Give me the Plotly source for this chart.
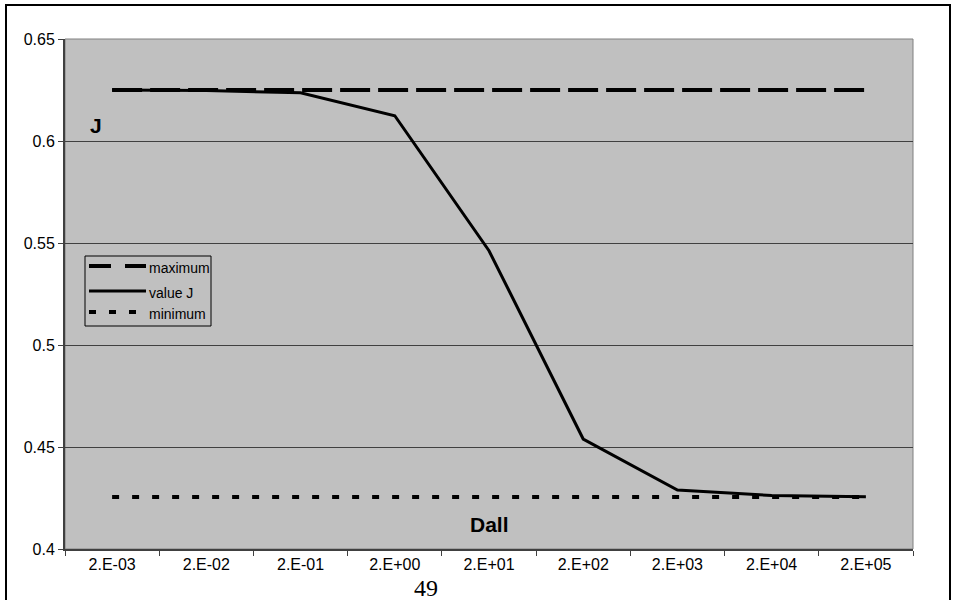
import plotly.graph_objects as go

categories = ["2.E-03", "2.E-02", "2.E-01", "2.E+00", "2.E+01", "2.E+02", "2.E+03", "2.E+04", "2.E+05"]
maximum = [0.625] * 9
value_j = [0.625, 0.6247, 0.6236, 0.6124, 0.5462, 0.4539, 0.4289, 0.4262, 0.4256]
minimum = [0.4255] * 9
y_ticks = [0.4, 0.45, 0.5, 0.55, 0.6, 0.65]
y_ticktext = ["0.4", "0.45", "0.5", "0.55", "0.6", "0.65"]
series_names = ["maximum", "value J", "minimum"]

W, H = 956, 600
L, R, T, B = 65, 913, 39, 549

def px(x):
    return (x - L) / (R - L)

def py(y):
    return (B - y) / (B - T)

styles = [dict(color="black", width=4, dash="30px,8px"),
          dict(color="black", width=3),
          dict(color="black", width=4, dash="7px,13px")]
legend_styles = [dict(color="black", width=4, dash="22px,14px"),
                 dict(color="black", width=3),
                 dict(color="black", width=4, dash="7px,13px")]

fig = go.Figure()
for name, vals, st in zip(series_names, [maximum, value_j, minimum], styles):
    fig.add_trace(go.Scatter(x=categories, y=vals, mode="lines", name=name,
                             line=st, showlegend=False))

font = "Liberation Sans, Arial, sans-serif"

shapes = [
    dict(type="rect", xref="paper", yref="paper", x0=0, x1=1, y0=0, y1=1,
         line=dict(color="#808080", width=1), layer="below"),
    dict(type="rect", xref="paper", yref="paper",
         x0=px(6), x1=px(950), y0=py(615), y1=py(5),
         line=dict(color="black", width=2)),
    # legend box
    dict(type="rect", xref="paper", yref="paper",
         x0=px(85), x1=px(211), y0=py(326), y1=py(256),
         line=dict(color="black", width=1), fillcolor="#C0C0C0"),
]
annotations = [
    dict(text="<b>J</b>", xref="paper", yref="paper", x=px(88), y=py(112),
         showarrow=False, font=dict(family=font, size=21, color="black")),
    dict(text="<b>Dall</b>", xref="paper", yref="paper", x=px(490), y=py(538),
         showarrow=False, font=dict(family=font, size=21, color="black")),
    dict(text="49", xref="paper", yref="paper", x=px(426), y=py(573),
         yanchor="top", showarrow=False,
         font=dict(family="Liberation Serif, Times New Roman, serif", size=24, color="black")),
]
legend_rows = [266, 291, 312]
for name, st, yrow in zip(series_names, legend_styles, legend_rows):
    shapes.append(dict(type="line", xref="paper", yref="paper",
                       x0=px(89), x1=px(146), y0=py(yrow), y1=py(yrow), line=st))
    annotations.append(dict(text=name, xref="paper", yref="paper",
                            x=px(147), y=py(yrow + 2), xanchor="left",
                            showarrow=False,
                            font=dict(family=font, size=14, color="black")))

fig.update_layout(
    width=W, height=H,
    margin=dict(l=L, r=W - R, t=T, b=H - B, pad=0),
    paper_bgcolor="white",
    plot_bgcolor="#C0C0C0",
    font=dict(family=font, size=16, color="black"),
    showlegend=False,
    xaxis=dict(type="category", showgrid=False, zeroline=False,
               showline=True, linecolor="#404040", linewidth=2,
               ticks="outside", ticklen=5, tickcolor="#404040", tickwidth=1,
               tickson="boundaries", range=[-0.5, 8.5],
               tickfont=dict(family=font, size=16, color="black")),
    yaxis=dict(range=[0.4, 0.65], tickvals=y_ticks, ticktext=y_ticktext,
               showgrid=True, gridcolor="#404040", gridwidth=1, zeroline=False,
               showline=True, linecolor="#404040", linewidth=2,
               ticks="outside", ticklen=5, tickcolor="#404040", tickwidth=1,
               tickfont=dict(family=font, size=16, color="black")),
    shapes=shapes,
    annotations=annotations,
)

fig.write_html("out.html")
